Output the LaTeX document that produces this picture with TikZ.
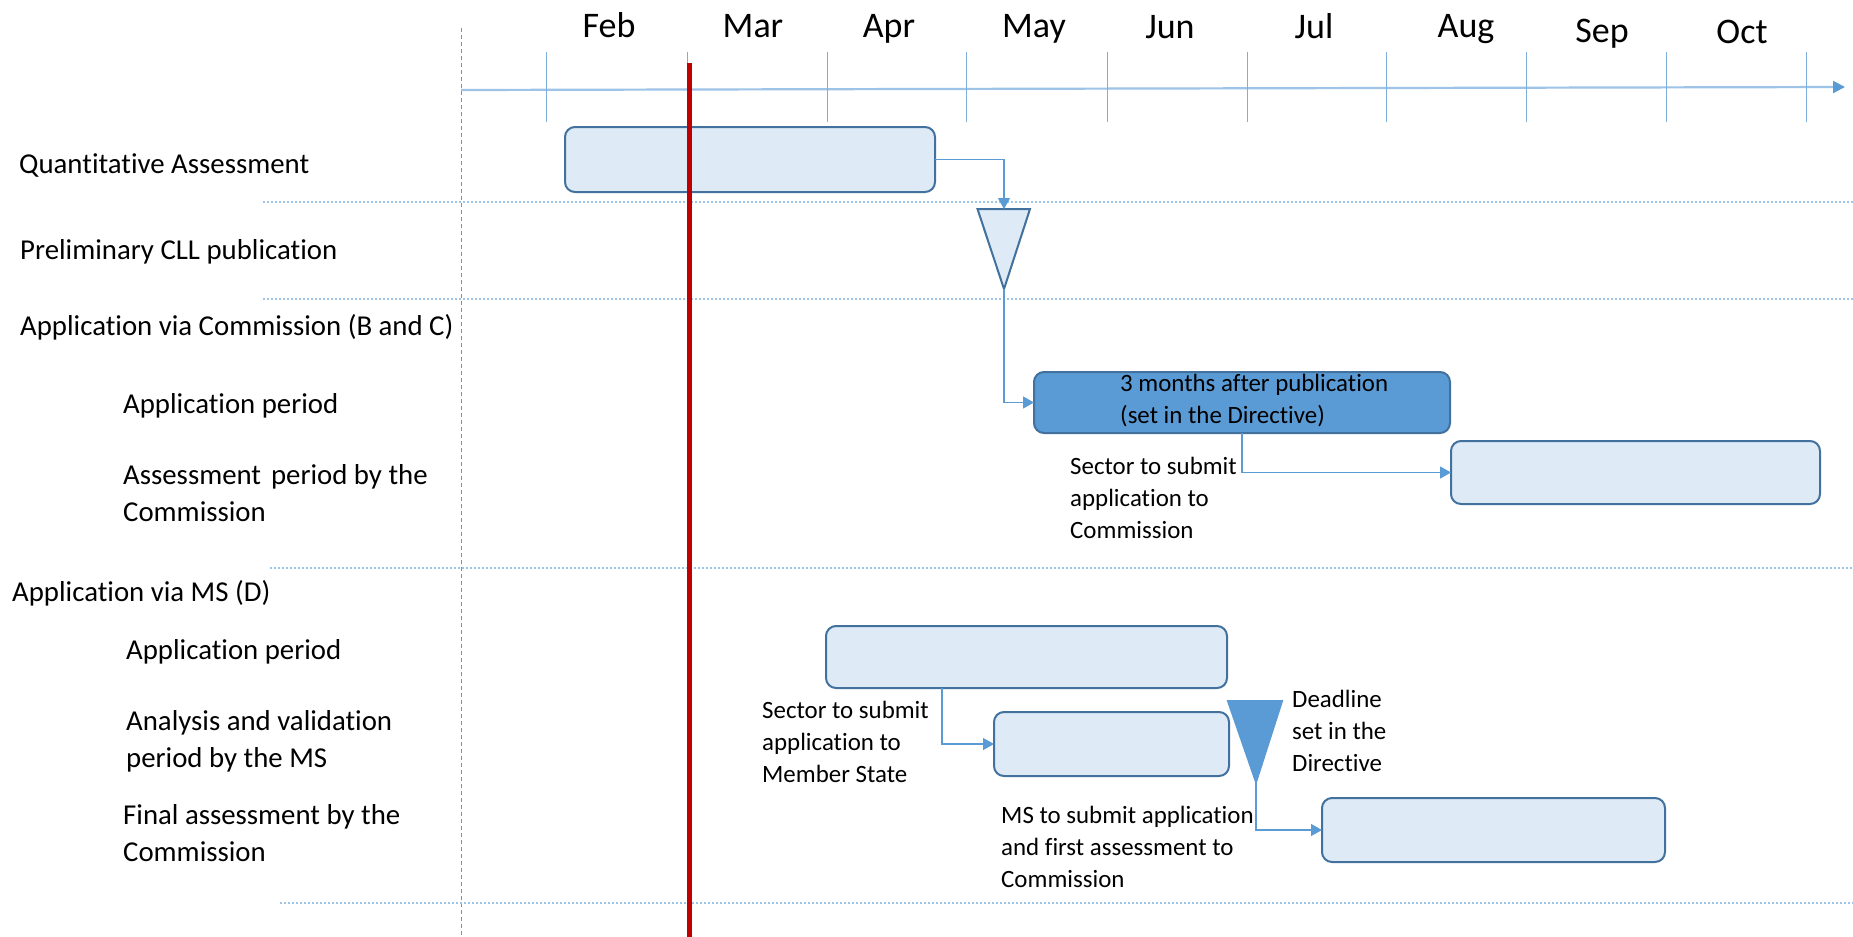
\documentclass[tikz,border=0pt]{standalone}
\usepackage{fontspec}
\setmainfont{Carlito}[Ligatures=NoCommon]
\usetikzlibrary{arrows.meta,calc}
\definecolor{lightfill}{HTML}{DEEBF7}
\definecolor{boxline}{HTML}{41719C}
\definecolor{accent}{HTML}{5B9BD5}
\definecolor{gridline}{HTML}{9DC3E6}
\definecolor{redline}{HTML}{C00000}
\tikzset{
  rowlabel/.style={inner sep=0pt, font=\fontsize{28.8}{37}\selectfont, align=left, anchor=west},
  annot/.style={inner sep=0pt, font=\fontsize{24.9}{32}\selectfont, align=left, anchor=west},
  monthlbl/.style={inner sep=0pt, font=\fontsize{36}{40}\selectfont, anchor=base},
  periodbox/.style={draw=boxline, line width=2pt, fill=lightfill, rounded corners=10pt, inner sep=0pt, outer sep=0pt, anchor=north west},
  darkbox/.style={periodbox, fill=accent},
  conn/.style={draw=accent, line width=1.2pt, -{Triangle[length=11pt,width=12pt]}},
  mstone/.style={draw=boxline, line width=2pt, line join=miter},
  gridv/.style={draw=accent, line width=1pt, dash pattern=on 4pt off 3pt},
  gridh/.style={draw=gridline, line width=1.6pt, dash pattern=on 2pt off 2pt},
  tick/.style={draw=accent!80, line width=1pt}
}
\begin{document}
\begin{tikzpicture}[x=1pt,y=-1pt]
\useasboundingbox[fill=white] (0,0) rectangle (1853,937);

% grid lines
\coordinate (gvtop) at (461,28);
\coordinate (gvbot) at (461,937);
\draw[gridv] (gvtop) -- (gvbot);
\coordinate (h1a) at (263,202); \coordinate (h1b) at (1853,202);
\coordinate (h2a) at (263,299); \coordinate (h2b) at (1853,299);
\coordinate (h3a) at (270,568); \coordinate (h3b) at (1853,568);
\coordinate (h4a) at (280,903); \coordinate (h4b) at (1853,903);
\draw[gridh] (h1a) -- (h1b);
\draw[gridh] (h2a) -- (h2b);
\draw[gridh] (h3a) -- (h3b);
\draw[gridh] (h4a) -- (h4b);

% time axis
\coordinate (axs) at (461,90);
\coordinate (axe) at (1845,87);
\draw[draw=gridline, line width=2.2pt, -{Triangle[length=12pt,width=12pt,color=accent,fill=accent]}] (axs) -- (axe);
\foreach \x/\n in {546/a,687/b,827/c,966/d,1107/e,1247/f,1386/g,1526/h,1666/i,1806/j}{
  \coordinate (tk\n t) at (\x,52);
  \coordinate (tk\n b) at (\x,122);
  \draw[tick] (tk\n t) -- (tk\n b);
}

% months
\node[monthlbl] (feb) at (609,37) {Feb};
\node[monthlbl] (mar) at (753,37) {Mar};
\node[monthlbl] (apr) at (889,37) {Apr};
\node[monthlbl] (may) at (1034,37) {May};
\node[monthlbl] (jun) at (1170,38) {Jun};
\node[monthlbl] (jul) at (1314,38) {Jul};
\node[monthlbl] (aug) at (1466,37) {Aug};
\node[monthlbl] (sep) at (1602,42) {Sep};
\node[monthlbl] (oct) at (1742,43) {Oct};

% row labels
\node[rowlabel] (lqa) at (19,165) {Quantitative Assessment};
\node[rowlabel] (lpre) at (20,252) {Preliminary CLL publication};
\node[rowlabel] (lcom) at (20,327) {Application via Commission (B and C)};
\node[rowlabel] (lap1) at (123,406) {Application period};
\node[rowlabel] (lass) at (123,493) {Assessment\hspace{0.12em} period by the\\Commission};
\node[rowlabel] (lms) at (12,593) {Application via MS (D)};
\node[rowlabel] (lap2) at (126,652) {Application period};
\node[rowlabel] (lana) at (126,741) {Analysis and validation\\period by the MS};
\node[rowlabel] (lfin) at (123,833) {Final assessment by the\\Commission};

% period boxes
\node[periodbox, minimum width=370pt, minimum height=65pt] (qa) at (565,127) {};
\node[darkbox, minimum width=416pt, minimum height=61pt] (app) at (1034,372) {};
\node[periodbox, minimum width=369pt, minimum height=63pt] (assess) at (1451,441) {};
\node[periodbox, minimum width=401pt, minimum height=62pt] (msapp) at (826,626) {};
\node[periodbox, minimum width=235pt, minimum height=64pt] (ana) at (994,712) {};
\node[periodbox, minimum width=343pt, minimum height=64pt] (final) at (1322,798) {};

% milestones
\coordinate (t1l) at (977.5,209); \coordinate (t1r) at (1030,209);
\coordinate (t1top) at (1004,209); \coordinate (t1bot) at (1004,289);
\draw[mstone, fill=lightfill] (t1l) -- (t1r) -- (t1bot) -- cycle;
\coordinate (t2l) at (1228,701); \coordinate (t2r) at (1282,701);
\coordinate (t2bot) at (1256,782);
\draw[mstone, draw=accent, fill=accent] (t2l) -- (t2r) -- (t2bot) -- cycle;

% annotations
\node[annot] (appnote) at (1120,401) {3 months after publication\\(set in the Directive)};
\node[annot] (n1) at (1070,498) {Sector to submit\\application to\\Commission};
\node[annot] (n2) at (762,742) {Sector to submit\\application to\\Member State};
\node[annot] (n3) at (1292,731) {Deadline\\set in the\\Directive};
\node[annot] (n4) at (1001,847) {MS to submit application\\and first assessment to\\Commission};

% connectors
\draw[conn] (qa.east) -| (t1top);
\draw[conn] (t1bot) |- (app.west);
\draw[conn] (app.south) |- (assess.west);
\coordinate (msdrop) at ($(msapp.south west)!0.289!(msapp.south east)$);
\draw[conn] (msdrop) |- (ana.west);
\draw[conn] (t2bot) |- (final.west);

% current date line
\coordinate (rtop) at (689,63);
\coordinate (rbot) at (689,937);
\draw[draw=redline, line width=5pt] (rtop) -- (rbot);
\end{tikzpicture}
\end{document}
